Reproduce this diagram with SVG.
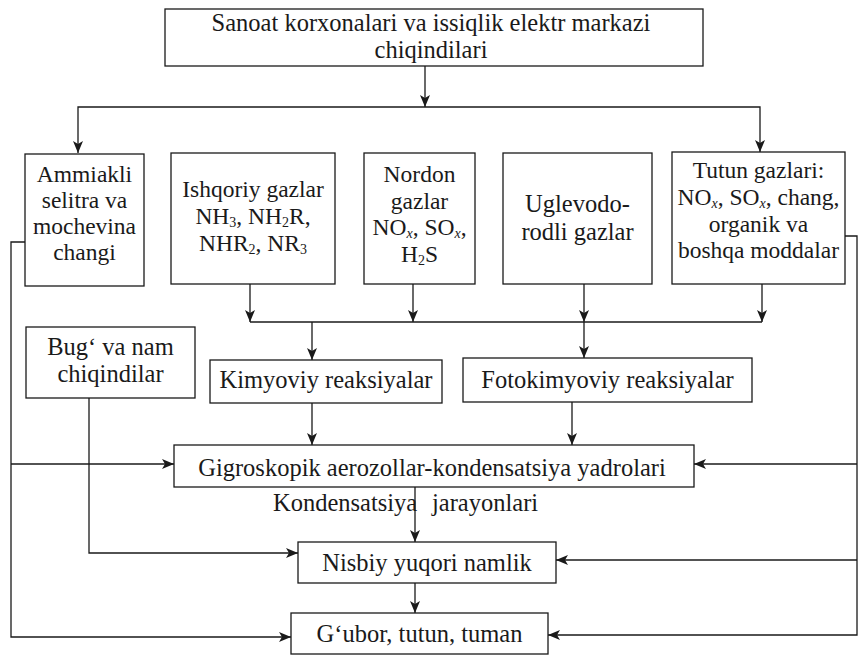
<svg xmlns="http://www.w3.org/2000/svg" width="859" height="655" viewBox="0 0 859 655" font-family="'Liberation Serif', 'Times New Roman', Times, serif">
<style>
.b{fill:#fff;stroke:#1a1a1a;stroke-width:1.3}
.t{font-size:24.5px;fill:#1a1a1a;text-anchor:middle}
.m{font-size:23.5px}
.s{font-size:14px}
.c{fill:none;stroke:#1a1a1a;stroke-width:1.3}
</style>
<defs>
<marker id="a" markerUnits="userSpaceOnUse" markerWidth="12" markerHeight="10" refX="12" refY="5" orient="auto">
<path d="M0,0 L12,5 L0,10 L3,5 z" fill="#1a1a1a"/>
</marker>
</defs>
<rect width="859" height="655" fill="#fff"/>
<g id="connectors" class="c" marker-end="url(#a)">
<path d="M425,66 V107"/>
<path d="M425,107 H78 V153"/>
<path d="M425,107 H760 V152"/>
<path d="M250,284 V322"/>
<path d="M413,284 V322"/>
<path d="M584,284 V322"/>
<path d="M762,284 V322"/>
<path d="M250,322 H762" marker-end="none"/>
<path d="M312,322 V360"/>
<path d="M584,322 V358"/>
<path d="M312,403 V445"/>
<path d="M572,402 V445"/>
<path d="M415,487 V542"/>
<path d="M415,583 V613"/>
<path d="M89,398 V553 H298"/>
<path d="M25,242 H11 V637 H291"/>
<path d="M11,464 H174"/>
<path d="M845,236 H857 V635 H548"/>
<path d="M857,464 H694"/>
<path d="M857,560 H556"/>
</g>
<g id="n-source">
<rect class="b" x="165" y="9" width="538" height="57"/>
<text class="t" x="431" y="31" font-size="24px">Sanoat korxonalari va issiqlik elektr markazi</text>
<text class="t" x="431" y="58" font-size="24px">chiqindilari</text>
</g>
<g id="n-ammiakli" class="m">
<rect class="b" x="25" y="154" width="119" height="132"/>
<text class="t m" x="84.5" y="182">Ammiakli</text>
<text class="t m" x="84.5" y="208">selitra va</text>
<text class="t m" x="84.5" y="234">mochevina</text>
<text class="t m" x="84.5" y="260">changi</text>
</g>
<g id="n-ishqoriy">
<rect class="b" x="171" y="153" width="164" height="131"/>
<text class="t m" x="253" y="197">Ishqoriy gazlar</text>
<text class="t m" x="253" y="224">NH<tspan class="s" dy="3">3</tspan><tspan dy="-3">, NH</tspan><tspan class="s" dy="3">2</tspan><tspan dy="-3">R,</tspan></text>
<text class="t m" x="253" y="251">NHR<tspan class="s" dy="3">2</tspan><tspan dy="-3">, NR</tspan><tspan class="s" dy="3">3</tspan></text>
</g>
<g id="n-nordon">
<rect class="b" x="364" y="153" width="111" height="131"/>
<text class="t m" x="419.5" y="182">Nordon</text>
<text class="t m" x="419.5" y="208.5">gazlar</text>
<text class="t m" x="419.5" y="235">NO<tspan class="s" dy="3" font-style="italic">x</tspan><tspan dy="-3">, SO</tspan><tspan class="s" dy="3" font-style="italic">x</tspan><tspan dy="-3">,</tspan></text>
<text class="t m" x="419.5" y="262">H<tspan class="s" dy="3">2</tspan><tspan dy="-3">S</tspan></text>
</g>
<g id="n-uglevodorodli">
<rect class="b" x="503" y="153" width="149" height="131"/>
<text class="t" x="577.5" y="212">Uglevodo-</text>
<text class="t" x="577.5" y="240">rodli gazlar</text>
</g>
<g id="n-tutun">
<rect class="b" x="672" y="152" width="173" height="132"/>
<text class="t m" x="758.5" y="178">Tutun gazlari:</text>
<text class="t m" x="758.5" y="204.5">NO<tspan class="s" dy="3" font-style="italic">x</tspan><tspan dy="-3">, SO</tspan><tspan class="s" dy="3" font-style="italic">x</tspan><tspan dy="-3">, chang,</tspan></text>
<text class="t m" x="758.5" y="231.5">organik va</text>
<text class="t m" x="758.5" y="258">boshqa moddalar</text>
</g>
<g id="n-bug">
<rect class="b" x="26" y="327" width="169" height="71"/>
<text class="t" x="110.5" y="355">Bug‘ va nam</text>
<text class="t" x="110.5" y="382">chiqindilar</text>
</g>
<g id="n-kimyoviy">
<rect class="b" x="210" y="360" width="232" height="43"/>
<text class="t" x="326" y="388">Kimyoviy reaksiyalar</text>
</g>
<g id="n-fotokimyoviy">
<rect class="b" x="463" y="358" width="289" height="44"/>
<text class="t" x="607.5" y="388">Fotokimyoviy reaksiyalar</text>
</g>
<g id="n-gigroskopik">
<rect class="b" x="174" y="445" width="520" height="42"/>
<text class="t" x="432" y="476">Gigroskopik aerozollar-kondensatsiya yadrolari</text>
</g>
<g id="n-kondensatsiya-label">
<text class="t" x="273" y="511" style="text-anchor:start">Kondensatsiya</text>
<text class="t" x="432" y="511" style="text-anchor:start">jarayonlari</text>
</g>
<g id="n-nisbiy">
<rect class="b" x="298" y="542" width="258" height="41"/>
<text class="t" x="427" y="571">Nisbiy yuqori namlik</text>
</g>
<g id="n-gubor">
<rect class="b" x="291" y="613" width="257" height="41"/>
<text class="t" x="419.5" y="642">G‘ubor, tutun, tuman</text>
</g>
</svg>
